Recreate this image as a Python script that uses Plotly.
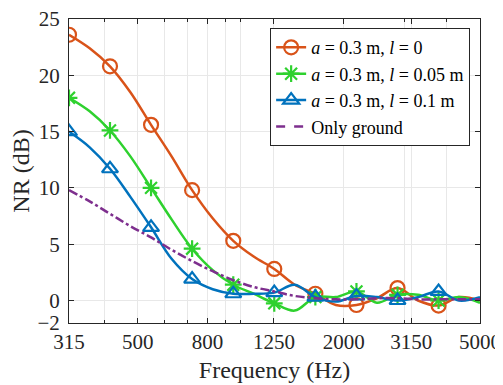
import plotly.graph_objects as go

# Frequencies (Hz) of the sampled curve points
freq = [315, 362, 415, 476, 547, 628, 721, 828, 951, 1091, 1253, 1438, 1652,
        1896, 2178, 2499, 2871, 3294, 3784, 4341, 5000]
# Frequencies where markers are drawn
freq_marker = [315, 415, 547, 721, 951, 1253, 1652, 2178, 2871, 3784]

nr_l0 = [23.6, 22.4, 20.8, 18.5, 15.6, 12.8, 9.8, 7.3, 5.3, 3.9, 2.8, 1.4, 0.6,
         -0.4, -0.4, 0.2, 1.1, 0.0, -0.45, 0.3, 0.0]
nr_l005 = [18.0, 16.8, 15.1, 12.8, 10.0, 7.2, 4.6, 2.7, 1.4, 0.6, -0.25, -0.9, 0.3,
           0.3, 0.8, -0.2, 0.5, 0.5, 0.0, 0.3, -0.2]
nr_l01 = [15.0, 13.6, 11.7, 9.2, 6.5, 3.7, 1.9, 1.0, 0.6, 0.6, 0.7, 1.4, 0.3,
          -0.1, 0.4, 0.3, 0.0, 0.3, 0.8, 0.0, 0.3]
nr_ground = [9.8, 8.8, 7.7, 6.6, 5.6, 4.5, 3.5, 2.6, 1.8, 1.2, 0.8, 0.4, 0.2,
             0.1, 0.1, 0.2, 0.2, 0.1, 0.1, 0.1, 0.1]

x_ticks = [315, 500, 800, 1250, 2000, 3150, 5000]
x_ticktext = ["315", "500", "800", "1250", "2000", "3150", "5000"]
x_minor = [400, 600, 700, 900, 1000, 3000, 4000]
y_ticks = [-2, 0, 5, 10, 15, 20, 25]

series = [
    ("<i>a</i> = 0.3 m, <i>l</i> = 0", nr_l0, "#D95319", "circle-open", 14),
    ("<i>a</i> = 0.3 m, <i>l</i> = 0.05 m", nr_l005, "#2ED12E", "asterisk-open", 14),
    ("<i>a</i> = 0.3 m, <i>l</i> = 0.1 m", nr_l01, "#0072BD", "triangle-up-open", 14),
]

fig = go.Figure()
for name, vals, color, sym, size in series:
    fig.add_trace(go.Scatter(x=freq, y=vals, mode="lines",
                             line=dict(color=color, width=2.5, shape="spline"),
                             showlegend=False, hoverinfo="skip"))
    mk = [vals[freq.index(f)] for f in freq_marker]
    fig.add_trace(go.Scatter(x=freq_marker, y=mk, mode="markers",
                             marker=dict(symbol=sym, size=size, color=color,
                                         line=dict(width=2.2, color=color)),
                             showlegend=False))

fig.add_trace(go.Scatter(x=freq, y=nr_ground, mode="lines",
                         line=dict(color="#7E2F8E", width=2.5, dash="dashdot", shape="spline"),
                         showlegend=False))

# legend entries
for name, vals, color, sym, size in series:
    fig.add_trace(go.Scatter(x=[None], y=[None], mode="lines+markers", name=name,
                             line=dict(color=color, width=2.5),
                             marker=dict(symbol=sym, size=size, color=color,
                                         line=dict(width=2.2, color=color))))
fig.add_trace(go.Scatter(x=[None], y=[None], mode="lines", name="Only ground",
                         line=dict(color="#7E2F8E", width=2.5, dash="dash")))

axis_col = "#262626"
grid_col = "#E8E8E8"
font_fam = "Liberation Serif"

# The page body has an 8 px margin, so the figure is 8 px smaller than the window
fig.update_layout(
    width=495, height=377,
    margin=dict(l=61, r=23, t=11, b=62, autoexpand=False),
    paper_bgcolor="white", plot_bgcolor="white",
    font=dict(family=font_fam, color=axis_col, size=21),
    legend=dict(x=0.976, y=0.970, xanchor="right", yanchor="top",
                bgcolor="white", bordercolor=axis_col, borderwidth=1,
                font=dict(size=18, family=font_fam, color="black"),
                tracegroupgap=0, itemwidth=30),
    xaxis=dict(type="log", range=[2.4983, 3.69897], automargin=False,
               tickvals=x_ticks, ticktext=x_ticktext, ticklabeloverflow="allow",
               showgrid=True, gridcolor=grid_col, gridwidth=1,
               ticks="inside", ticklen=5, tickcolor=axis_col,
               showline=True, linecolor=axis_col, linewidth=1, mirror="ticks",
               zeroline=False,
               minor=dict(tickvals=x_minor, showgrid=True, gridcolor=grid_col,
                          ticks="inside", ticklen=3, tickcolor=axis_col),
               title=dict(text="Frequency (Hz)", font=dict(size=24, family=font_fam), standoff=7),
               tickfont=dict(size=21, family=font_fam)),
    yaxis=dict(range=[-2, 25], tickvals=y_ticks, automargin=False,
               ticklabeloverflow="allow",
               showgrid=True, gridcolor=grid_col, gridwidth=1,
               ticks="inside", ticklen=5, tickcolor=axis_col,
               showline=True, linecolor=axis_col, linewidth=1, mirror="ticks",
               zeroline=False, ticklabelstandoff=4,
               title=dict(text="NR (dB)", font=dict(size=24, family=font_fam), standoff=6),
               tickfont=dict(size=21, family=font_fam)),
)

fig.write_html("out.html")
